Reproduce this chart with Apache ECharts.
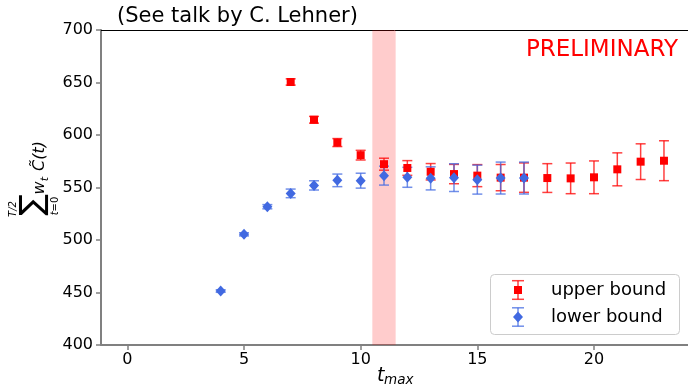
<!DOCTYPE html>
<html><head><meta charset="utf-8">
<script src="https://cdn.jsdelivr.net/npm/echarts@6/dist/echarts.min.js"></script>
<style>html,body{margin:0;padding:0;background:#fff}#c{width:688px;height:387px}</style>
</head><body><div id="c"></div>
<script>
// ---- data ----
const upperX   = [7, 8, 9, 10, 11, 12, 13, 14, 15, 16, 17, 18, 19, 20, 21, 22, 23];
const upperY   = [650.5, 614.5, 592.8, 580.8, 572.2, 568.6, 565.0, 562.8, 561.3, 559.4, 559.4, 559.0, 558.7, 559.7, 567.3, 574.6, 575.5];
const upperErr = [3.0, 3.2, 3.8, 4.6, 5.7, 7.0, 7.8, 9.2, 10.5, 12.5, 14.0, 13.7, 14.6, 15.6, 15.7, 17.0, 19.0];
const lowerX   = [4, 5, 6, 7, 8, 9, 10, 11, 12, 13, 14, 15, 16, 17];
const lowerY   = [451.4, 505.4, 531.7, 544.4, 552.0, 556.8, 556.5, 561.3, 559.7, 558.7, 559.4, 557.5, 559.0, 559.0];
const lowerErr = [1.2, 1.5, 2.0, 4.1, 4.4, 6.0, 7.1, 9.0, 9.5, 11.0, 13.2, 13.8, 15.2, 15.2];
const xTicks   = [0, 5, 10, 15, 20];
const yTicks   = [400, 450, 500, 550, 600, 650, 700];
const bandRange = [10.5, 11.5];
const seriesNames = ['upper bound', 'lower bound'];

const FONT = 'DejaVu Sans';
const RED = '#ff0000', BLUE = '#4169e1';
const RED_BAR = 'rgba(255,0,0,0.75)', BLUE_BAR = 'rgba(65,105,225,0.75)';
const SPINE = '#808080';

function zip3(a, b, c) { return a.map((v, i) => [v, b[i], c[i]]); }
function zip2(a, b) { return a.map((v, i) => [v, b[i]]); }

function errRender(color) {
  return function (params, api) {
    const x = api.value(0), y = api.value(1), e = api.value(2);
    const t = api.coord([x, y + e]), b = api.coord([x, y - e]);
    const hw = 5;
    const st = { stroke: color, lineWidth: 1.5 };
    return { type: 'group', children: [
      { type: 'line', shape: { x1: t[0], y1: t[1], x2: b[0], y2: b[1] }, style: st },
      { type: 'line', shape: { x1: t[0] - hw, y1: t[1], x2: t[0] + hw, y2: t[1] }, style: st },
      { type: 'line', shape: { x1: b[0] - hw, y1: b[1], x2: b[0] + hw, y2: b[1] }, style: st }
    ]};
  };
}

const chart = echarts.init(document.getElementById('c'), null, { renderer: 'canvas' });

const legendChildren = [];
legendChildren.push({ type: 'rect', shape: { x: 490.5, y: 274.5, width: 189, height: 60, r: 4 },
  style: { fill: 'rgba(255,255,255,0.8)', stroke: '#cccccc', lineWidth: 1 } });
(function () {
  const cx = 518, cy = 290, h = 9.3, hw = 6;
  const st = { stroke: RED_BAR, lineWidth: 1.5 };
  legendChildren.push({ type: 'line', shape: { x1: cx, y1: cy - h, x2: cx, y2: cy + h }, style: st });
  legendChildren.push({ type: 'line', shape: { x1: cx - hw, y1: cy - h, x2: cx + hw, y2: cy - h }, style: st });
  legendChildren.push({ type: 'line', shape: { x1: cx - hw, y1: cy + h, x2: cx + hw, y2: cy + h }, style: st });
  legendChildren.push({ type: 'rect', shape: { x: cx - 4, y: cy - 4, width: 8, height: 8 }, style: { fill: RED } });
  legendChildren.push({ type: 'text', x: 551, y: cy, style: { text: seriesNames[0], fontSize: 18, fontFamily: FONT, fill: '#000', align: 'left', verticalAlign: 'middle' } });
})();
(function () {
  const cx = 518, cy = 317, h = 9.2, hw = 6;
  const st = { stroke: BLUE_BAR, lineWidth: 1.5 };
  legendChildren.push({ type: 'line', shape: { x1: cx, y1: cy - h, x2: cx, y2: cy + h }, style: st });
  legendChildren.push({ type: 'line', shape: { x1: cx - hw, y1: cy - h, x2: cx + hw, y2: cy - h }, style: st });
  legendChildren.push({ type: 'line', shape: { x1: cx - hw, y1: cy + h, x2: cx + hw, y2: cy + h }, style: st });
  legendChildren.push({ type: 'polygon', shape: { points: [[cx, cy - 5.5], [cx + 5, cy], [cx, cy + 5.5], [cx - 5, cy]] }, style: { fill: BLUE } });
  legendChildren.push({ type: 'text', x: 551, y: cy, style: { text: seriesNames[1], fontSize: 18, fontFamily: FONT, fill: '#000', align: 'left', verticalAlign: 'middle' } });
})();

const option = {
  animation: false,
  backgroundColor: '#fff',
  grid: { left: 101, top: 30, right: 0, bottom: 42, containLabel: false },
  xAxis: [{
    type: 'value', min: -1.13, max: 24.03,
    axisLine: { show: true, onZero: false, lineStyle: { color: SPINE, width: 2 } },
    axisTick: { show: true, length: 5, customValues: xTicks, lineStyle: { color: SPINE, width: 1.5 } },
    axisLabel: { show: true, customValues: xTicks, margin: 7, fontSize: 16, fontFamily: FONT, color: '#000' },
    splitLine: { show: false }
  }, {
    type: 'value', position: 'top', min: -1.13, max: 24.03,
    axisLine: { show: true, onZero: false, lineStyle: { color: '#000', width: 1 } },
    axisTick: { show: false }, axisLabel: { show: false }, splitLine: { show: false }
  }],
  yAxis: {
    type: 'value', min: yTicks[0], max: yTicks[yTicks.length - 1], interval: 50,
    axisLine: { show: true, onZero: false, lineStyle: { color: SPINE, width: 2 } },
    axisTick: { show: true, length: 5, lineStyle: { color: SPINE, width: 1.5 } },
    axisLabel: { show: true, margin: 8, fontSize: 16, fontFamily: FONT, color: '#000' },
    splitLine: { show: false }
  },
  series: [
    { type: 'custom', silent: true, z: 1, data: [bandRange],
      renderItem: function (params, api) {
        const a = api.coord([api.value(0), yTicks[0]]), b = api.coord([api.value(1), yTicks[0]]);
        const cs = params.coordSys;
        return { type: 'rect', shape: { x: a[0], y: cs.y, width: b[0] - a[0], height: cs.height },
          style: { fill: 'rgba(255,0,0,0.2)' } };
      } },
    { type: 'custom', name: seriesNames[0] + ' err', silent: true, data: zip3(upperX, upperY, upperErr),
      encode: { x: 0, y: 1 }, renderItem: errRender(RED_BAR) },
    { type: 'scatter', name: seriesNames[0], silent: true, symbol: 'rect', symbolSize: 8,
      itemStyle: { color: RED, opacity: 1 }, data: zip2(upperX, upperY) },
    { type: 'custom', name: seriesNames[1] + ' err', silent: true, data: zip3(lowerX, lowerY, lowerErr),
      encode: { x: 0, y: 1 }, renderItem: errRender(BLUE_BAR) },
    { type: 'scatter', name: seriesNames[1], silent: true, symbol: 'diamond', symbolSize: [10, 11],
      itemStyle: { color: BLUE, opacity: 1 }, data: zip2(lowerX, lowerY) }
  ],
  graphic: [
    { type: 'text', x: 117, y: 17, style: { text: '(See talk by C. Lehner)', fontSize: 21, fontFamily: FONT, fill: '#000', align: 'left', verticalAlign: 'middle' } },
    { type: 'text', x: 678, y: 50, style: { text: 'PRELIMINARY', fontSize: 23, fontFamily: FONT, fill: RED, align: 'right', verticalAlign: 'middle' } },
    { type: 'text', x: 377, y: 376, style: { text: 't', fontSize: 19, fontStyle: 'italic', fontFamily: FONT, fill: '#000', align: 'left', verticalAlign: 'middle' } },
    { type: 'text', x: 384, y: 380, style: { text: 'max', fontSize: 13.5, fontStyle: 'italic', fontFamily: FONT, fill: '#000', align: 'left', verticalAlign: 'middle' } },
    { type: 'group', x: 0, y: 215, rotation: Math.PI / 2, children: [
      { type: 'text', x: 10, y: 34, style: { text: '\u2211', fontSize: 32, fontFamily: FONT, fill: '#000', align: 'center', verticalAlign: 'middle' } },
      { type: 'text', x: 6, y: 13, style: { text: 'T/2', fontSize: 10, fontStyle: 'italic', fontFamily: FONT, fill: '#000', align: 'center', verticalAlign: 'middle' } },
      { type: 'text', x: 9, y: 55, style: { text: '{i|t}{n|=0}', fontFamily: FONT, fill: '#000', align: 'center', verticalAlign: 'middle',
          rich: { i: { fontSize: 10, fontStyle: 'italic', fontFamily: FONT }, n: { fontSize: 10, fontFamily: FONT } } } },
      { type: 'text', x: 27, y: 40, style: { text: 'w', fontSize: 16, fontStyle: 'italic', fontFamily: FONT, fill: '#000', align: 'center', verticalAlign: 'middle' } },
      { type: 'text', x: 36, y: 45, style: { text: 't', fontSize: 11, fontStyle: 'italic', fontFamily: FONT, fill: '#000', align: 'center', verticalAlign: 'middle' } },
      { type: 'text', x: 44, y: 40, style: { text: 'C\u0303(t)', fontSize: 16, fontStyle: 'italic', fontFamily: FONT, fill: '#000', align: 'left', verticalAlign: 'middle' } }
    ] },
    { type: 'group', children: legendChildren }
  ]
};
chart.setOption(option);
</script>
</body></html>
